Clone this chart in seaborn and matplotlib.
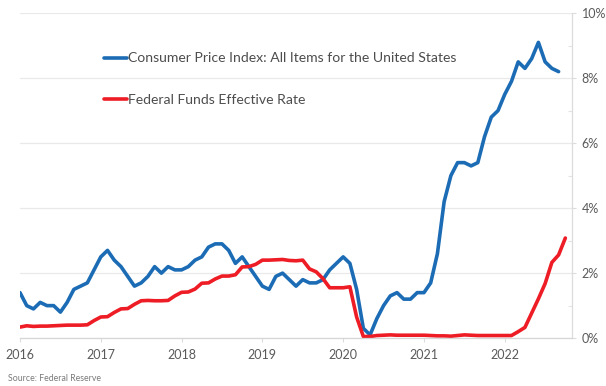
import numpy as np
import pandas as pd
import matplotlib
matplotlib.use("Agg")
import matplotlib.pyplot as plt
import seaborn as sns
from matplotlib.ticker import FuncFormatter, MultipleLocator

# Monthly CPI year-over-year inflation, Jan 2016 - Sep 2022 (%)
cpi_2016 = [1.4, 1.0, 0.9, 1.1, 1.0, 1.0, 0.8, 1.1, 1.5, 1.6, 1.7, 2.1]
cpi_2017 = [2.5, 2.7, 2.4, 2.2, 1.9, 1.6, 1.7, 1.9, 2.2, 2.0, 2.2, 2.1]
cpi_2018 = [2.1, 2.2, 2.4, 2.5, 2.8, 2.9, 2.9, 2.7, 2.3, 2.5, 2.2, 1.9]
cpi_2019 = [1.6, 1.5, 1.9, 2.0, 1.8, 1.6, 1.8, 1.7, 1.7, 1.8, 2.1, 2.3]
cpi_2020 = [2.5, 2.3, 1.5, 0.3, 0.1, 0.6, 1.0, 1.3, 1.4, 1.2, 1.2, 1.4]
cpi_2021 = [1.4, 1.7, 2.6, 4.2, 5.0, 5.4, 5.4, 5.3, 5.4, 6.2, 6.8, 7.0]
cpi_2022 = [7.5, 7.9, 8.5, 8.3, 8.6, 9.1, 8.5, 8.3, 8.2]

# Monthly federal funds effective rate, Jan 2016 - Oct 2022 (%)
ffr_2016 = [0.34, 0.38, 0.36, 0.37, 0.37, 0.38, 0.39, 0.40, 0.40, 0.40, 0.41, 0.54]
ffr_2017 = [0.65, 0.66, 0.79, 0.90, 0.91, 1.04, 1.15, 1.16, 1.15, 1.15, 1.16, 1.30]
ffr_2018 = [1.41, 1.42, 1.51, 1.69, 1.70, 1.82, 1.91, 1.91, 1.95, 2.19, 2.20, 2.27]
ffr_2019 = [2.40, 2.40, 2.41, 2.42, 2.39, 2.38, 2.40, 2.13, 2.04, 1.83, 1.55, 1.55]
ffr_2020 = [1.55, 1.58, 0.65, 0.05, 0.05, 0.08, 0.09, 0.10, 0.09, 0.09, 0.09, 0.09]
ffr_2021 = [0.09, 0.08, 0.07, 0.07, 0.06, 0.08, 0.10, 0.09, 0.08, 0.08, 0.08, 0.08]
ffr_2022 = [0.08, 0.08, 0.20, 0.33, 0.77, 1.21, 1.68, 2.33, 2.56, 3.08]

series_names = ["Consumer Price Index: All Items for the United States",
                "Federal Funds Effective Rate"]
series_colors = ["#1c6cb5", "#ee1c25"]
year_ticks = [2016, 2017, 2018, 2019, 2020, 2021, 2022]
source_note = "Source: Federal Reserve"

cpi = cpi_2016 + cpi_2017 + cpi_2018 + cpi_2019 + cpi_2020 + cpi_2021 + cpi_2022
ffr = ffr_2016 + ffr_2017 + ffr_2018 + ffr_2019 + ffr_2020 + ffr_2021 + ffr_2022


def month_axis(n):
    idx = np.arange(n)
    return 2016 + idx / 12.0


df = pd.concat([
    pd.DataFrame({"date": month_axis(len(cpi)), "value": cpi, "series": series_names[0]}),
    pd.DataFrame({"date": month_axis(len(ffr)), "value": ffr, "series": series_names[1]}),
], ignore_index=True)

sns.set_theme(style="white")
plt.rcParams["font.family"] = ["Lato", "DejaVu Sans"]

fig = plt.figure(figsize=(6.06, 3.86), dpi=100)
ax = fig.add_axes([0.033, 0.124, 0.911, 0.842])

sns.lineplot(data=df, x="date", y="value", hue="series",
             palette=dict(zip(series_names, series_colors)),
             linewidth=2.6, ax=ax, legend=False)

ax.set_xlim(2016, 2022 + 10 / 12)
ax.set_ylim(0, 10)
ax.set_xlabel("")
ax.set_ylabel("")

# horizontal gridlines every 2%
ax.yaxis.set_major_locator(MultipleLocator(2))
ax.yaxis.set_minor_locator(MultipleLocator(1))
ax.grid(axis="y", which="major", color="#e9e9e9", linewidth=0.9)
ax.set_axisbelow(True)

ax.yaxis.tick_right()
ax.yaxis.set_major_formatter(FuncFormatter(lambda v, p: f"{v:.0f}%"))
ax.tick_params(axis="y", which="major", labelsize=9, colors="#5a5a5a",
               length=3, width=0.8, color="#dcdcdc", pad=4, right=True, left=False)
ax.tick_params(axis="y", which="minor", length=3, width=0.8, color="#e4e4e4",
               right=True, left=False, direction="in")

ax.set_xticks(year_ticks)
ax.set_xticklabels([str(y) for y in year_ticks])
ax.tick_params(axis="x", labelsize=9, colors="#5a5a5a", length=3, width=0.8,
               color="#dcdcdc", pad=5, bottom=True)

for side in ["top", "left"]:
    ax.spines[side].set_visible(False)
ax.spines["right"].set_color("#dcdcdc")
ax.spines["bottom"].set_color("#d6d6d6")
ax.spines["right"].set_linewidth(0.9)
ax.spines["bottom"].set_linewidth(0.9)

handles = [plt.Line2D([], [], color=c, linewidth=2.6) for c in series_colors]
leg = ax.legend(handles, series_names, loc="upper left",
                bbox_to_anchor=(0.152, 0.879), frameon=False,
                fontsize=10.1, handlelength=1.65, handletextpad=0.1,
                labelspacing=2.12, borderpad=0, borderaxespad=0)
for t in leg.get_texts():
    t.set_color("#4d4d4d")

fig.text(0.013, 0.012, source_note, fontsize=6.3, color="#7a7a7a")

fig.savefig("out.png", dpi=100)
